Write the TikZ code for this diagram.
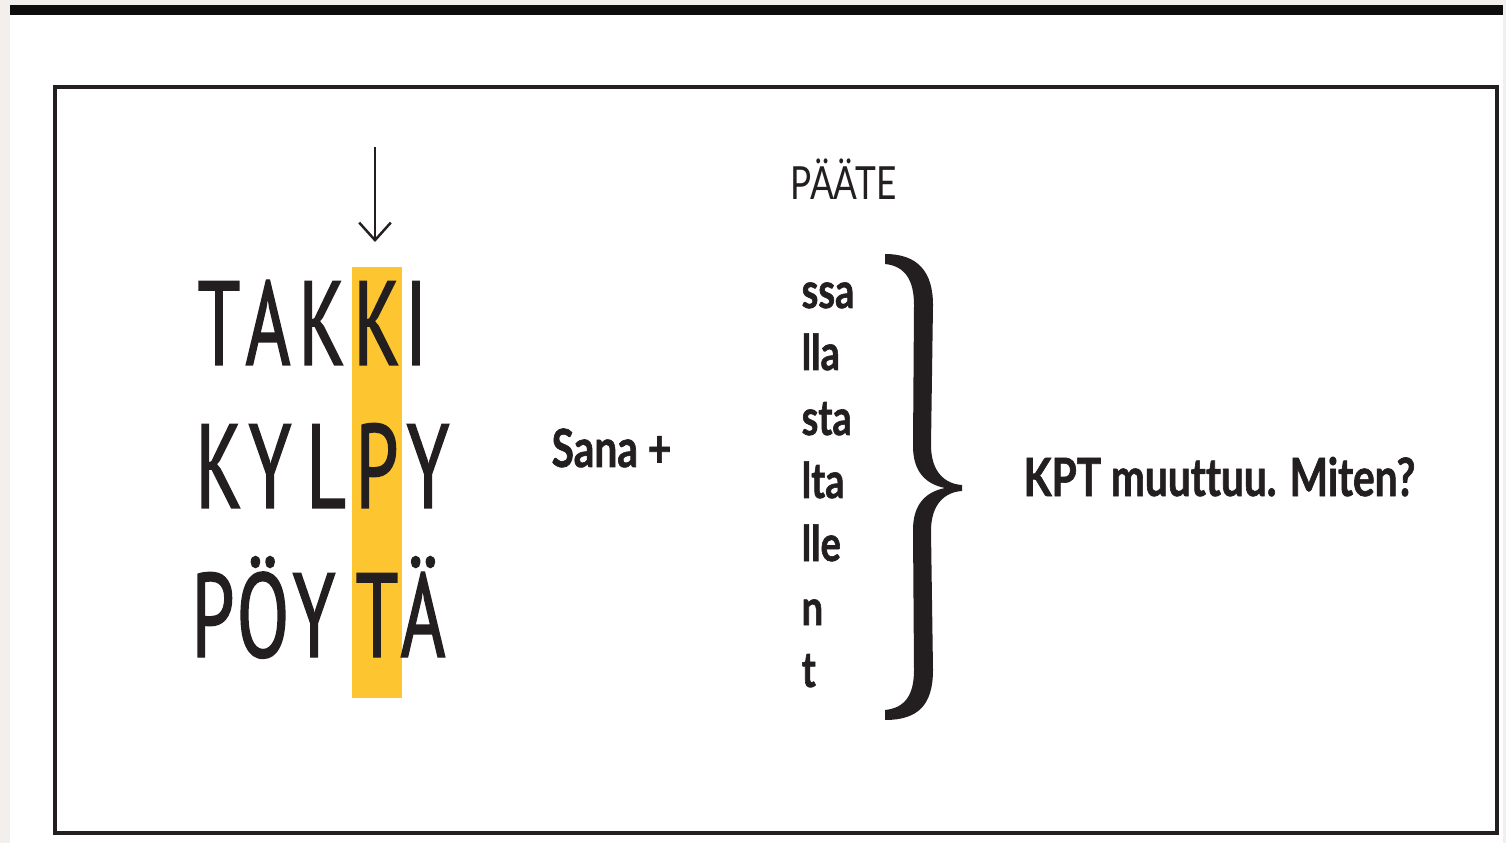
\documentclass[tikz,border=0pt]{standalone}
\usepackage{fontspec}
\usetikzlibrary{arrows.meta}
\newfontfamily\lettersfont[FakeStretch=0.64, FakeBold=1.2]{PT Sans}
\newfontfamily\condfont[FakeStretch=0.77, Ligatures=NoCommon, BoldFeatures={FakeBold=1.2}]{Lato}
\definecolor{kptyellow}{HTML}{FDC530}
\definecolor{ink}{HTML}{231F20}
\definecolor{screen}{HTML}{F2EFED}

\begin{document}
\begin{tikzpicture}[x=0.01cm, y=-0.01cm,
    big letter/.style={anchor=base, font=\lettersfont\fontsize{34}{34}\selectfont},
    suffix/.style={anchor=base west, font=\condfont\bfseries\fontsize{14}{14}\selectfont},
    main label/.style={anchor=base west, font=\condfont\bfseries\fontsize{15}{15}\selectfont},
    highlight/.style={fill=kptyellow, minimum width=0.5cm, minimum height=4.31cm},
    pointer/.style={-{Straight Barb[length=5pt, width=9pt]}, line width=0.7pt, draw=ink}]
        \tikzstyle{every node}=[inner sep=0, text=ink]

          % screen background
          \useasboundingbox (0,0) rectangle (1506,843);
          \fill[screen] (0,0) rectangle (1506,843);
          \fill[white] (10,15) rectangle (1503,843);
          \fill[black!95] (10,5) rectangle (1503,15);
          \draw[ink, line width=1pt] (55,87) rectangle (1497,833);

          \node[highlight] (column) at (377,482.5) {};
          \coordinate (arrowtail) at (375,147);
          \coordinate (arrowtip) at (375,242);
          \draw[pointer] (arrowtail) -- (arrowtip);

          \foreach \y/\letters in {365/{T/219,A/268,K/322,K/377,I/416},
                                  508/{K/219,Y/270,L/326,P/377,Y/428},
                                  657/{P/213,Ö/263,Y/314,T/377,Ä/423}}
            \foreach \c/\x in \letters
              \node[big letter] (w-\y-\x) at (\x,\y) {\c};

          \node[main label] (sana) at (551,467) {Sana +};
          \node[anchor=base west, font=\condfont\fontsize{13}{13}\selectfont] (paate) at (790,200) {PÄÄTE};

          \foreach \s/\y in {ssa/308, lla/370, sta/435, lta/498, lle/561, n/625, t/687}
            \node[suffix] (s-\s) at (801,\y) {\s};

          % curly brace
          \fill[ink] (885,254) .. controls (918,254) and (933,272) .. (933,305)
            -- (931,445) .. controls (931,472) and (945,484) .. (962,485)
            -- (962,491) .. controls (945,492) and (931,504) .. (931,531)
            -- (933,670) .. controls (933,705) and (918,720) .. (885,720)
            -- (885,710) .. controls (905,708) and (914,695) .. (914,670)
            -- (913,530) .. controls (913,505) and (925,492) .. (945,488)
            .. controls (925,484) and (913,471) .. (913,446)
            -- (914,305) .. controls (914,280) and (905,266) .. (885,264) -- cycle;

          \node[main label] (question) at (1023,496) {KPT muuttuu. Miten?};

        \end{tikzpicture}
\end{document}
